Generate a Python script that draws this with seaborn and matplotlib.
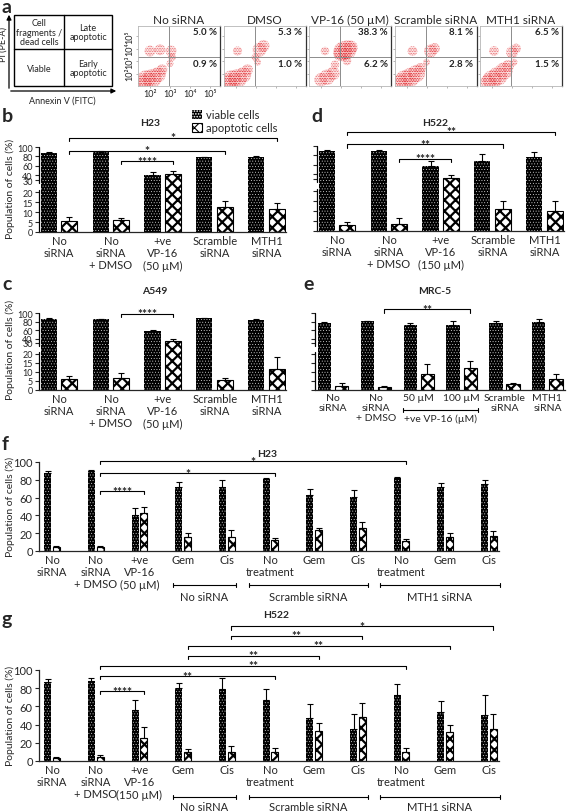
import numpy as np
import pandas as pd
import matplotlib
matplotlib.use("Agg")
import matplotlib.pyplot as plt
from matplotlib.patches import Patch, Rectangle
import seaborn as sns

sns.set_style("ticks")
plt.rcParams["font.family"] = ["Lato", "DejaVu Sans"]
plt.rcParams["hatch.linewidth"] = 0.8
plt.rcParams["axes.linewidth"] = 0.9

W, H = 567, 812

# ---------------------------------------------------------------- data
cell_types = ["viable cells", "apoptotic cells"]

labels_b = ["No\nsiRNA", "No\nsiRNA\n+ DMSO", "+ve\nVP-16\n(50 µM)", "Scramble\nsiRNA", "MTH1\nsiRNA"]
labels_d = ["No\nsiRNA", "No\nsiRNA\n+ DMSO", "+ve\nVP-16\n(150 µM)", "Scramble\nsiRNA", "MTH1\nsiRNA"]
labels_e = ["No\nsiRNA", "No\nsiRNA\n+ DMSO", "50 µM", "100 µM", "Scramble\nsiRNA", "MTH1\nsiRNA"]
labels_f = ["No\nsiRNA", "No\nsiRNA\n+ DMSO", "+ve\nVP-16\n(50 µM)", "Gem", "Cis",
            "No\ntreatment", "Gem", "Cis", "No\ntreatment", "Gem", "Cis"]
labels_g = ["No\nsiRNA", "No\nsiRNA\n+ DMSO", "+ve\nVP-16\n(150 µM)", "Gem", "Cis",
            "No\ntreatment", "Gem", "Cis", "No\ntreatment", "Gem", "Cis"]

# b: H23
h23_viable = [88, 90, 41, 79, 79]
h23_viable_err = [1, 0.8, 5, 0.8, 1.2]
h23_apop = [5.5, 6, 43, 12.7, 11.5]
h23_apop_err = [1.8, 1, 6, 3, 2.8]

# d: H522
h522_viable = [90, 89, 57, 69, 77]
h522_viable_err = [1, 2, 12, 14, 10]
h522_apop = [2.8, 3.7, 32, 11, 10.2]
h522_apop_err = [1.8, 2.8, 6, 4.1, 5]

# c: A549
a549_viable = [87, 86, 59, 88, 83]
a549_viable_err = [0.8, 1, 2, 0.8, 3]
a549_apop = [6.2, 6.5, 35, 5.6, 11.8]
a549_apop_err = [1.3, 2.8, 3.5, 1.3, 6.3]

# e: MRC-5
mrc5_viable = [76, 81, 71, 71, 76, 78]
mrc5_viable_err = [3, 1, 6, 11, 5, 7]
mrc5_apop = [2.2, 1.8, 8.7, 12.4, 3.3, 5.8]
mrc5_apop_err = [1.8, 0.6, 5.8, 3.6, 0.4, 3.3]

# f: H23 with drugs
f_viable = [88, 90, 41, 72, 71.5, 80.5, 62.5, 61, 81.5, 72, 75]
f_viable_err = [2, 1, 7.5, 5.5, 8, 2, 7, 8, 1.5, 4.5, 4.5]
f_apop = [5, 5, 43, 16, 16, 12.5, 24, 26, 11, 16, 17]
f_apop_err = [1, 1, 7, 4.5, 7.5, 2.5, 2, 6.5, 2.5, 4.5, 6]

# g: H522 with drugs
g_viable = [87, 88, 56, 80.5, 79, 66.5, 47.5, 35, 72.5, 53.5, 51]
g_viable_err = [3, 3, 11, 5, 12, 13, 15, 17, 12, 12, 22]
g_apop = [3, 4, 25, 10, 9.5, 10, 32.5, 48.5, 9.5, 32, 35]
g_apop_err = [1.7, 2.5, 12, 3.6, 6.5, 4.3, 9.5, 15, 4.8, 7.6, 17]

# significance comparisons (first group, last group, stars)
sig_b = [(0, 4, "*"), (0, 3, "*"), (1, 2, "****")]
sig_d = [(0, 4, "**"), (0, 3, "**"), (1, 2, "****")]
sig_c = [(1, 2, "****")]
sig_e = [(1, 3, "**")]
sig_f = [(1, 8, "*"), (1, 5, "*"), (1, 2, "****")]
sig_g = [(4, 10, "*"), (4, 7, "**"), (3, 9, "**"), (3, 6, "**"), (1, 8, "**"), (1, 5, "**"), (1, 2, "****")]

span_names = ["No siRNA", "Scramble siRNA", "MTH1 siRNA"]
span_first = [3, 5, 8]
span_last = [4, 7, 10]

# a: flow cytometry
flow_titles = ["No siRNA", "DMSO", "VP-16 (50 µM)", "Scramble siRNA", "MTH1 siRNA"]
flow_upper = [5.0, 5.3, 38.3, 8.1, 6.5]
flow_lower = [0.9, 1.0, 6.2, 2.8, 1.5]
flow_x = [
    [1.8, 2.1, 2.4, 1.7, 2.6, 2.0, 2.5, 3.05, 3.1, 3.0],
    [1.8, 2.1, 2.4, 1.7, 2.6, 2.1, 3.2, 3.4, 3.0, 3.1],
    [3.1, 3.3, 3.0, 3.5, 2.0, 2.3, 2.6, 2.7, 2.2, 3.3],
    [1.9, 2.2, 2.5, 1.7, 2.7, 2.3, 3.2, 3.4, 3.0],
    [2.0, 2.3, 2.6, 1.8, 2.8, 2.1, 3.0, 3.2, 3.1],
]
flow_y = [
    [1.5, 1.6, 1.9, 1.3, 2.3, 3.8, 3.9, 3.8, 3.3, 2.8],
    [1.5, 1.6, 1.9, 1.3, 2.3, 3.8, 3.9, 4.2, 3.3, 2.9],
    [3.8, 3.9, 3.6, 4.1, 1.5, 1.7, 2.0, 2.7, 3.8, 3.0],
    [1.5, 1.7, 2.0, 1.3, 2.4, 3.8, 3.8, 4.0, 2.9],
    [1.5, 1.8, 2.2, 1.3, 2.6, 3.8, 3.7, 4.0, 2.9],
]
flow_w = [
    [3, 3, 2, 2, 1, 1, 1, 1, 0.5, 0.4],
    [3, 3, 2, 2, 1, 0.7, 1.6, 1.2, 0.5, 0.4],
    [3, 3, 2, 1.5, 1.5, 2, 1.5, 0.6, 0.6, 0.6],
    [3, 3, 2.5, 2, 1, 0.8, 1.4, 1, 0.4],
    [3, 3, 2.5, 2, 1.2, 0.8, 1.2, 0.8, 0.4],
]

broken_ticks = [0, 5, 10, 15, 20, 30, 40, 60, 80, 100]


# ---------------------------------------------------------------- helpers
def rect(left, top, right, bottom):
    return [left / W, 1 - bottom / H, (right - left) / W, (bottom - top) / H]


def fwd(v):
    v = np.asarray(v, dtype=float)
    return np.where(v <= 20, v, np.where(v <= 30, 20 + (v - 20) * 0.6, 26 + (v - 30) * 0.236))


def inv(u):
    u = np.asarray(u, dtype=float)
    return np.where(u <= 20, u, np.where(u <= 26, 20 + (u - 20) / 0.6, 30 + (u - 26) / 0.236))


def hatch_lw(artist, lw):
    if hasattr(artist, "set_hatch_linewidth"):
        artist.set_hatch_linewidth(lw)


def style_viable(p):
    p.set_facecolor("black")
    p.set_edgecolor("white")
    p.set_linewidth(0)
    p.set_hatch("......")
    hatch_lw(p, 0.25)


def style_apop(p):
    p.set_facecolor("white")
    p.set_edgecolor("black")
    p.set_linewidth(0.8)
    p.set_hatch("xxx")
    hatch_lw(p, 1.6)


def bar_panel(ax, labels, viable, viable_err, apop, apop_err, width, gap, xsize=8):
    keys = [f"k{i}" for i in range(len(labels))]
    df = pd.DataFrame({
        "group": keys * 2,
        "cells": [cell_types[0]] * len(keys) + [cell_types[1]] * len(keys),
        "value": list(viable) + list(apop),
    })
    sns.barplot(data=df, x="group", y="value", hue="cells", order=keys, hue_order=cell_types,
                palette={cell_types[0]: "black", cell_types[1]: "white"}, saturation=1,
                width=width, gap=gap, errorbar=None, legend=False, ax=ax)
    for p in list(ax.patches):
        xc = p.get_x() + p.get_width() / 2
        i = int(round(xc))
        if xc > i:
            style_apop(p)
            err = apop_err[i]
        else:
            style_viable(p)
            err = viable_err[i]
        ax.errorbar(xc, p.get_height(), yerr=[[0], [err]], fmt="none", ecolor="black",
                    elinewidth=0.8, capsize=2.2, capthick=0.8, zorder=1)
    ax.set_xticks(range(len(labels)))
    ax.set_xticklabels(labels, fontsize=xsize, linespacing=1.15)
    ax.tick_params(axis="x", length=0, pad=2)
    ax.tick_params(axis="y", length=3, width=0.8, pad=1.5, labelsize=7.5)
    ax.set_xlabel("")
    ax.set_ylabel("")
    sns.despine(ax=ax)


def broken_axis(ax, show_labels):
    ax.set_yscale("function", functions=(fwd, inv))
    ax.set_ylim(0, 100)
    ax.set_yticks(broken_ticks)
    if show_labels:
        ax.set_yticklabels([str(t) for t in broken_ticks], fontsize=6.5)
    else:
        ax.set_yticklabels([])
    ax.spines["left"].set_visible(False)
    tr = ax.get_yaxis_transform()
    ax.plot([0, 0], [0, 21.8], transform=tr, color="black", lw=0.9, clip_on=False)
    ax.plot([0, 0], [27.5, 100], transform=tr, color="black", lw=0.9, clip_on=False)


def brackets(ax, comps, levels, offset, trans, tick):
    for (i, j, stars), lvl in zip(comps, levels):
        x0, x1 = i + offset, j + offset
        ax.plot([x0, x0, x1, x1], [lvl - tick, lvl, lvl, lvl - tick], transform=trans,
                color="black", lw=0.8, clip_on=False)
        ax.text((x0 + x1) / 2, lvl, stars, transform=trans, ha="center", va="center",
                fontsize=8.5, fontweight="bold")


def span(ax, x0, x1, y_line, y_text, text, size=8):
    tr = ax.get_xaxis_transform()
    ax.plot([x0, x1], [y_line, y_line], transform=tr, color="black", lw=0.8, clip_on=False)
    for xx in (x0, x1):
        ax.plot([xx, xx], [y_line - 0.025, y_line + 0.025], transform=tr, color="black",
                lw=0.8, clip_on=False)
    ax.text((x0 + x1) / 2, y_text, text, transform=tr, ha="center", va="center", fontsize=size)


def flow_panel(ax, xs, ys, ws, title, up, low, first):
    sns.scatterplot(x=xs, y=ys, size=ws, sizes=(0, 190), size_norm=(0, 3), color="#f26d6d",
                    alpha=0.16, linewidth=0, legend=False, ax=ax)
    dots = ax.scatter(xs, ys, s=np.asarray(ws) * 60, facecolors="none", edgecolors="#e0262b",
                      linewidths=0, hatch="..........")
    hatch_lw(dots, 0.3)
    ax.axvline(2.95, color="#8c8c8c", lw=0.7)
    ax.axhline(3.35, color="#8c8c8c", lw=0.7)
    ax.set_xlim(1.4, 5.5)
    ax.set_ylim(1.0, 5.8)
    ax.set_xticks([2, 3, 4, 5])
    ax.set_yticks([2, 3, 4, 5])
    sup = ["10²", "10³", "10⁴", "10⁵"]
    if first:
        ax.set_xticklabels(sup, fontsize=6.5)
        ax.set_yticklabels(sup, fontsize=6.5, rotation=90, va="center")
    else:
        ax.set_xticklabels([])
        ax.set_yticklabels([])
    ax.tick_params(length=1.5, width=0.5, pad=1, color="#999999")
    for side in ["left", "top", "bottom"]:
        ax.spines[side].set_color("#b5b5b5")
        ax.spines[side].set_linewidth(0.6)
    ax.spines["right"].set_color("#333333")
    ax.spines["right"].set_linewidth(0.9)
    ax.set_title(title, fontsize=8.5, pad=2.5)
    ax.text(0.96, 0.9, f"{up:.1f} %", transform=ax.transAxes, ha="right", va="center",
            fontsize=7, fontweight="bold", color="#222222")
    ax.text(0.96, 0.38, f"{low:.1f} %", transform=ax.transAxes, ha="right", va="center",
            fontsize=7, fontweight="bold", color="#222222")


# ---------------------------------------------------------------- figure
fig = plt.figure(figsize=(W / 100, H / 100), dpi=100)

# panel a: quadrant scheme
ax_s = fig.add_axes([0, 1 - 110 / H, 125 / W, 110 / H])
ax_s.set_xlim(0, 125)
ax_s.set_ylim(110, 0)
ax_s.axis("off")
ax_s.add_patch(Rectangle((14, 16), 98, 71, fill=False, lw=1, ec="black"))
ax_s.plot([64, 64], [16, 87], color="black", lw=1)
ax_s.plot([14, 112], [50, 50], color="black", lw=1)
ax_s.annotate("", xy=(9, 13), xytext=(9, 92),
              arrowprops=dict(arrowstyle="-|>", lw=0.9, color="black", mutation_scale=7))
ax_s.annotate("", xy=(119, 92), xytext=(8, 92),
              arrowprops=dict(arrowstyle="-|>", lw=0.9, color="black", mutation_scale=7))
ax_s.text(3.5, 45, "PI (PE-A)", rotation=90, ha="center", va="center", fontsize=6.5)
ax_s.text(62, 101, "Annexin V (FITC)", ha="center", va="center", fontsize=6.5)
ax_s.text(39, 33, "Cell\nfragments /\ndead cells", ha="center", va="center", fontsize=6.5, linespacing=1.05)
ax_s.text(88, 33, "Late\napoptotic", ha="center", va="center", fontsize=6.5, linespacing=1.1)
ax_s.text(39, 69, "Viable", ha="center", va="center", fontsize=6.5)
ax_s.text(88, 69, "Early\napoptotic", ha="center", va="center", fontsize=6.5, linespacing=1.1)

flow_left = [138, 223.5, 309, 394.5, 480]
for k in range(5):
    axf = fig.add_axes(rect(flow_left[k], 27, flow_left[k] + 82, 87))
    flow_panel(axf, flow_x[k], flow_y[k], flow_w[k], flow_titles[k], flow_upper[k], flow_lower[k], k == 0)

# panel b
ax_b = fig.add_axes(rect(39, 148, 286, 233))
bar_panel(ax_b, labels_b, h23_viable, h23_viable_err, h23_apop, h23_apop_err, 0.8, 0.225)
broken_axis(ax_b, True)
ax_b.set_xlim(-0.385, 4.37)
brackets(ax_b, sig_b, [1.106, 0.953, 0.835], 0.2, ax_b.get_xaxis_transform(), 0.04)

# panel d
ax_d = fig.add_axes(rect(317, 147, 564, 232))
bar_panel(ax_d, labels_d, h522_viable, h522_viable_err, h522_apop, h522_apop_err, 0.8, 0.225)
broken_axis(ax_d, False)
ax_d.set_xlim(-0.385, 4.37)
brackets(ax_d, sig_d, [1.17, 1.02, 0.85], 0.2, ax_d.get_xaxis_transform(), 0.04)

# panel c
ax_c = fig.add_axes(rect(39, 314, 286, 391))
bar_panel(ax_c, labels_b, a549_viable, a549_viable_err, a549_apop, a549_apop_err, 0.8, 0.225)
broken_axis(ax_c, True)
ax_c.set_xlim(-0.385, 4.37)
brackets(ax_c, sig_c, [0.99], 0.2, ax_c.get_xaxis_transform(), 0.045)

# panel e
ax_e = fig.add_axes(rect(315, 314, 565, 391))
bar_panel(ax_e, labels_e, mrc5_viable, mrc5_viable_err, mrc5_apop, mrc5_apop_err, 0.8, 0.225, xsize=7.5)
broken_axis(ax_e, False)
ax_e.set_xlim(-0.42, 5.41)
brackets(ax_e, sig_e, [1.05], 0.2, ax_e.get_xaxis_transform(), 0.045)
span(ax_e, 1.63, 3.38, -0.26, -0.37, "+ve VP-16 (µM)", size=7.5)

# panel f
ax_f = fig.add_axes(rect(39, 463, 499, 552))
bar_panel(ax_f, labels_f, f_viable, f_viable_err, f_apop, f_apop_err, 0.4, 0.2)
ax_f.set_ylim(0, 100)
ax_f.set_yticks([0, 20, 40, 60, 80, 100])
ax_f.tick_params(axis="y", labelsize=8)
ax_f.set_xlim(-0.30, 10.23)
brackets(ax_f, sig_f, [101, 87.6, 67.4], 0.1, ax_f.transData, 3.5)

# panel g
ax_g = fig.add_axes(rect(39, 671, 499, 762))
bar_panel(ax_g, labels_g, g_viable, g_viable_err, g_apop, g_apop_err, 0.4, 0.2)
ax_g.set_ylim(0, 100)
ax_g.set_yticks([0, 20, 40, 60, 80, 100])
ax_g.tick_params(axis="y", labelsize=8)
ax_g.set_xlim(-0.30, 10.23)
brackets(ax_g, sig_g, [148, 137.4, 126.4, 115.4, 104.4, 93.4, 76.9], 0.1, ax_g.transData, 3.5)

pad_l = [0.23, 0.5, 0.5]
pad_r = [0.2, 0.23, 0.25]
for k in range(3):
    span(ax_f, span_first[k] - pad_l[k], span_last[k] + pad_r[k], -0.382, -0.51, span_names[k])
    span(ax_g, span_first[k] - pad_l[k], span_last[k] + pad_r[k], -0.396, -0.495, span_names[k])

# legend of b
h_viable = Patch()
style_viable(h_viable)
h_apop = Patch()
style_apop(h_apop)
fig.legend([h_viable, h_apop], cell_types, loc="upper left", bbox_to_anchor=(192 / W, 1 - 110 / H),
           frameon=False, fontsize=8, handlelength=0.9, handleheight=0.9, handletextpad=0.4,
           labelspacing=0.2, borderpad=0, borderaxespad=0)

# titles, letters, y labels
for txt, x, y in [("H23", 150, 123), ("H522", 435, 123), ("A549", 155, 292),
                  ("MRC-5", 435, 292), ("H23", 267, 455), ("H522", 276, 615)]:
    fig.text(x / W, 1 - y / H, txt, ha="center", va="center", fontsize=7.5, fontweight="bold")

for txt, x, y in [("a", 2, -1), ("b", 2, 108), ("d", 311, 108), ("c", 2, 276),
                  ("e", 303, 276), ("f", 2, 436), ("g", 2, 611)]:
    fig.text(x / W, 1 - y / H, txt, ha="left", va="top", fontsize=14, fontweight="bold")

for y in [189, 350, 507, 716]:
    fig.text(10 / W, 1 - y / H, "Population of cells (%)", rotation=90, ha="center",
             va="center", fontsize=7.5)

fig.savefig("out.png", dpi=100)
